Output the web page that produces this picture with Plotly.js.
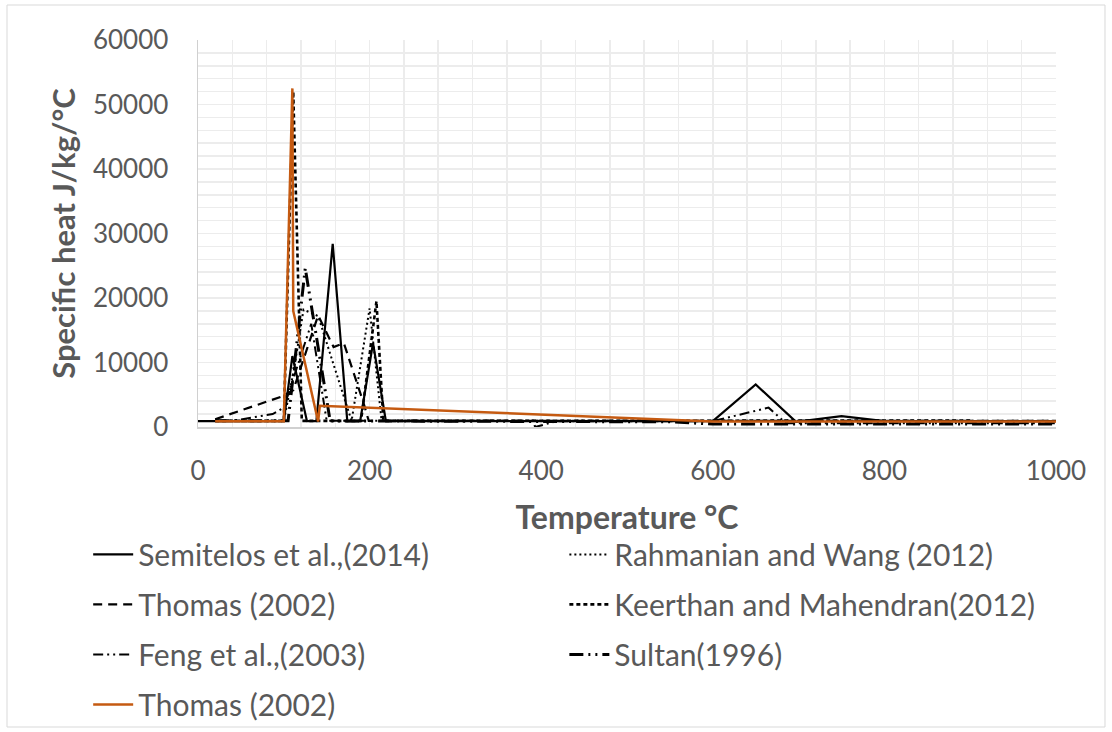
<!DOCTYPE html>
<html>
<head>
<meta charset="utf-8">
<script src="https://cdn.plot.ly/plotly-3.0.1.min.js"></script>
<style>
  html, body { margin: 0; padding: 0; background: #ffffff; }
  #chart { width: 1112px; height: 732px; }
</style>
</head>
<body>
<div id="chart"></div>
<script>
// Specific heat of gypsum board vs. temperature, as reported by several studies.

const semitelosT = [0, 100, 110, 127, 138, 157, 174, 189, 204, 219, 600, 650, 697, 750, 800, 1000];
const semitelosC = [900, 900, 11000, 900, 900, 28400, 900, 900, 13000, 900, 900, 6600, 800, 1700, 900, 900];

const rahmanianT = [20, 100, 112, 123, 140, 179, 200, 214, 1000];
const rahmanianC = [950, 950, 9000, 18200, 17200, 950, 18400, 950, 950];

const thomasBlackT = [20, 97, 111, 140, 158, 170, 193, 199, 1000];
const thomasBlackC = [1200, 4700, 5700, 17300, 12400, 13000, 3700, 950, 950];

const keerthanT = [20, 100, 111, 121, 190, 208, 216, 900];
const keerthanC = [950, 950, 52000, 950, 950, 19500, 950, 1000];

const fengT = [20, 40, 87, 100, 132, 150, 390, 393, 418, 600, 665, 685, 1000];
const fengC = [950, 950, 2000, 3000, 16000, 950, 950, 0, 900, 900, 3000, 600, 600];

const sultanT = [20, 105, 125, 154, 550, 600, 1000];
const sultanC = [950, 950, 24600, 950, 800, 450, 450];

const thomasT = [20, 100, 110, 111, 140, 142, 600, 1000];
const thomasC = [900, 900, 52500, 18000, 850, 3300, 850, 850];

const black = '#000000';
const orange = '#C55A11';

const traces = [
  { name: 'Semitelos et al.,(2014)', x: semitelosT, y: semitelosC,
    line: { color: black, width: 2.2 }, legend: 'legend', legendgroup: 'a' },
  { name: 'Rahmanian and Wang (2012)', x: rahmanianT, y: rahmanianC,
    line: { color: black, width: 2, dash: '2px,3px' }, legend: 'legend2', legendgroup: 'b' },
  { name: 'Thomas (2002)', x: thomasBlackT, y: thomasBlackC,
    line: { color: black, width: 2.2, dash: '9px,6px' }, legend: 'legend', legendgroup: 'c' },
  { name: 'Keerthan and Mahendran(2012)', x: keerthanT, y: keerthanC,
    line: { color: black, width: 2.6, dash: '4px,3px' }, legend: 'legend2', legendgroup: 'd' },
  { name: 'Feng et al.,(2003)', x: fengT, y: fengC,
    line: { color: black, width: 2, dash: '10px,4px,2px,4px,2px,4px' }, legend: 'legend', legendgroup: 'e' },
  { name: 'Sultan(1996)', x: sultanT, y: sultanC,
    line: { color: black, width: 3, dash: '14px,5px,2px,5px,2px,5px' }, legend: 'legend2', legendgroup: 'f' },
  { name: 'Thomas (2002)', x: thomasT, y: thomasC,
    line: { color: orange, width: 2.5 }, legend: 'legend', legendgroup: 'g' }
].map(t => Object.assign({ type: 'scatter', mode: 'lines', hoverinfo: 'skip' }, t));

const txt = '#595959';
const grid = '#ececec';
const legendFont = { family: 'Lato, "Open Sans", sans-serif', size: 30, color: txt };

const layout = {
  width: 1112, height: 732,
  margin: { l: 198, r: 56, t: 40, b: 305, autoexpand: false },
  paper_bgcolor: '#ffffff', plot_bgcolor: '#ffffff',
  font: { family: 'Lato, "Open Sans", sans-serif', color: txt },
  showlegend: true,
  xaxis: {
    range: [0, 1000], dtick: 200, tick0: 0, tickformat: 'd',
    showgrid: true, gridcolor: grid, gridwidth: 1.5,
    minor: { dtick: 40, showgrid: true, gridcolor: grid, gridwidth: 1.5 },
    showline: true, linecolor: '#d0d0d0', linewidth: 1.5,
    zeroline: false, ticks: '', ticklabelstandoff: 20,
    tickfont: { size: 26, color: txt },
    title: { text: '<b>Temperature °C</b>', font: { size: 32, color: txt }, standoff: 22 }
  },
  yaxis: {
    range: [0, 60000], dtick: 10000, tick0: 0, tickformat: 'd',
    showgrid: true, gridcolor: grid, gridwidth: 1.5,
    minor: { dtick: 2000, showgrid: true, gridcolor: grid, gridwidth: 1.5 },
    showline: true, linecolor: '#d0d0d0', linewidth: 1.5,
    zeroline: false, ticks: '', ticklabelstandoff: 23,
    tickfont: { size: 26, color: txt },
    title: { text: '<b>Specific heat J/kg/°C</b>', font: { size: 31, color: txt }, standoff: 8 }
  },
  legend: {
    x: -0.128, xanchor: 'left', y: -0.262, yanchor: 'top',
    orientation: 'v', tracegroupgap: 8, font: legendFont,
    bgcolor: 'rgba(0,0,0,0)', itemwidth: 40
  },
  legend2: {
    x: 0.427, xanchor: 'left', y: -0.262, yanchor: 'top',
    orientation: 'v', tracegroupgap: 8, font: legendFont,
    bgcolor: 'rgba(0,0,0,0)', itemwidth: 40
  },
  shapes: [{
    type: 'rect', xref: 'paper', yref: 'paper',
    x0: -0.2226, x1: 1.0571, y0: -0.7752, y1: 1.0904,
    line: { color: '#d9d9d9', width: 1 }, fillcolor: 'rgba(0,0,0,0)', layer: 'below'
  }]
};

Plotly.newPlot('chart', traces, layout, { displayModeBar: false, staticPlot: true });
</script>
</body>
</html>
